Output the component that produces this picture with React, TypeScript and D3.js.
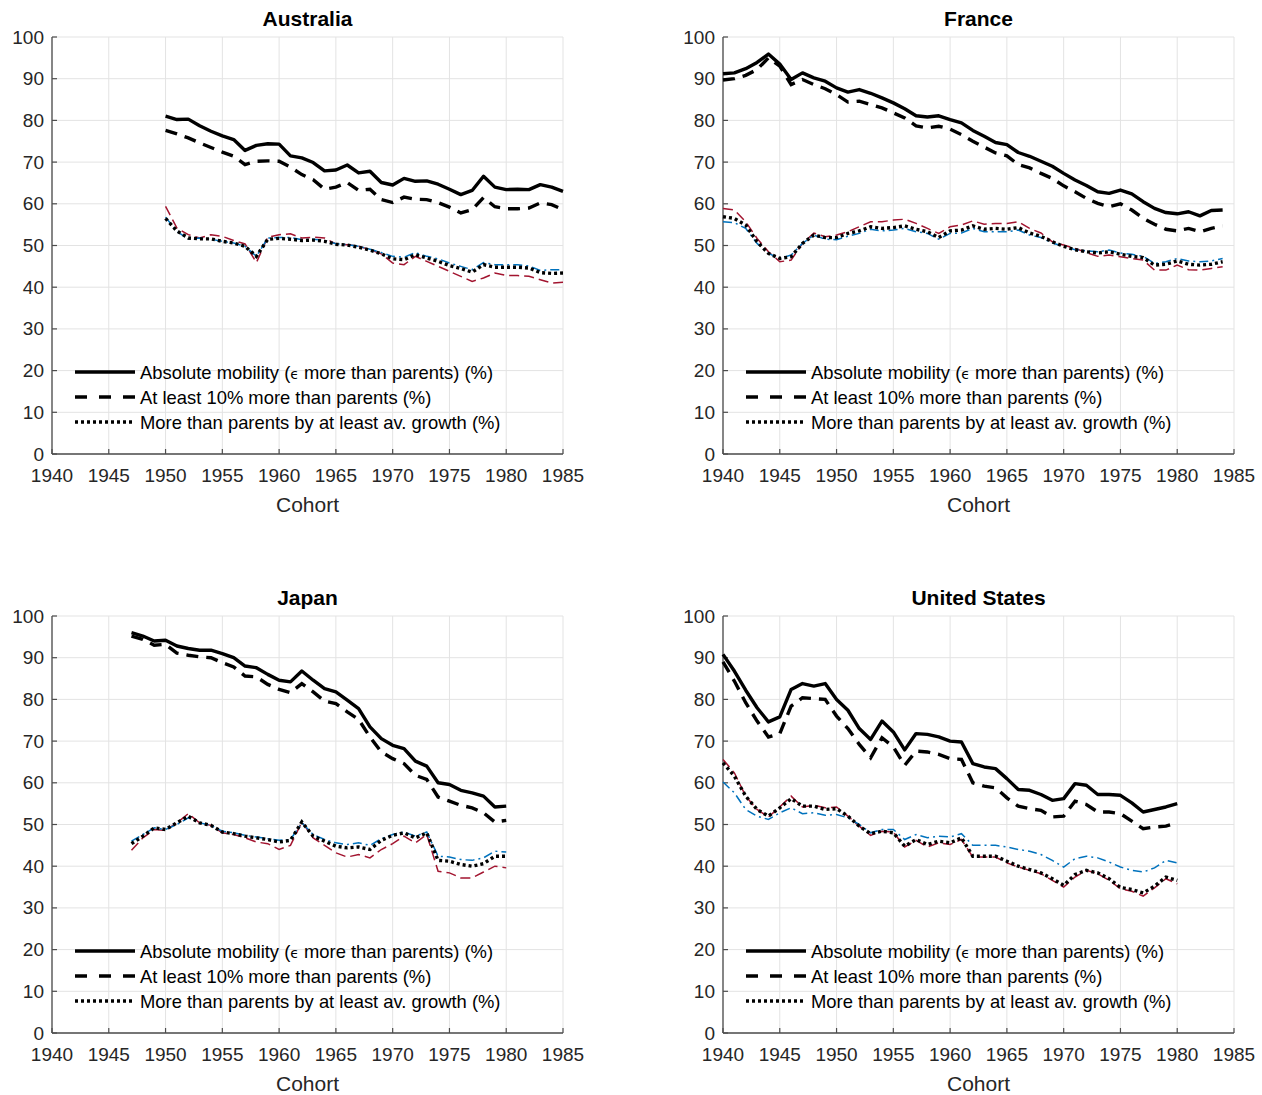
import React from "react";
import * as d3 from "d3";

// Cohort ranges per country
const australiaCohorts = d3.range(1950, 1986);
const franceCohorts = d3.range(1940, 1985);
const japanCohorts = d3.range(1947, 1981);
const usCohorts = d3.range(1940, 1981);

// Australia
const australiaAbsolute = [81, 80.2, 80.3, 78.7, 77.4, 76.3, 75.4, 72.8, 74, 74.4, 74.3, 71.5, 71, 69.9, 67.9, 68.1, 69.3, 67.4, 67.8, 65.1, 64.5, 66.1, 65.4, 65.5, 64.7, 63.5, 62.2, 63.2, 66.6, 64, 63.4, 63.5, 63.4, 64.6, 64, 63];
const australiaTenPct = [77.6, 76.8, 75.8, 74.6, 73.5, 72.4, 71.4, 69.4, 70.2, 70.3, 70.2, 68.8, 67, 65.8, 63.5, 64, 65.1, 63.2, 63.5, 61, 60.3, 61.6, 61.1, 61, 60.3, 59.2, 57.8, 58.6, 61.5, 59.3, 58.8, 58.8, 59, 60.2, 59.8, 58.6];
const australiaAvGrowth = [56.5, 53.5, 51.8, 51.6, 51.6, 51, 50.6, 49.8, 47.4, 51.5, 51.7, 51.5, 51.2, 51.3, 51, 50.3, 50.1, 49.6, 48.9, 48, 46.8, 46.6, 47.8, 47, 46.2, 45.2, 44.5, 43.6, 45.4, 44.8, 44.8, 44.8, 44.6, 43.5, 43.3, 43.4];
const australiaVariantRed = [59.4, 54.2, 52.6, 51.8, 52.6, 52.2, 51.2, 50.4, 45.9, 52, 52.6, 52.8, 51.8, 52, 51.8, 50.4, 50.2, 49.8, 49, 48, 45.8, 45.4, 47.4, 46.2, 45, 43.8, 42.6, 41.4, 42.2, 43.4, 42.8, 42.8, 42.6, 41.8, 41, 41.2];
const australiaVariantBlue = [56.8, 53.4, 51.5, 51.8, 51.5, 51, 50.6, 49.8, 47.4, 51.8, 51.9, 51.9, 51.4, 51.5, 51.2, 50.4, 50.2, 49.8, 49.1, 48.3, 47.4, 47.2, 48.3, 47.4, 46.8, 45.8, 45, 44.2, 45.9, 45.4, 45.4, 45.4, 45.1, 44, 44.2, 44.2];

// France
const franceAbsolute = [91.2, 91.4, 92.4, 93.9, 95.9, 93.5, 89.8, 91.4, 90.2, 89.4, 87.8, 86.8, 87.4, 86.5, 85.4, 84.2, 82.8, 81.1, 80.8, 81.1, 80.2, 79.4, 77.6, 76.2, 74.7, 74.2, 72.3, 71.4, 70.2, 69, 67.3, 65.7, 64.4, 62.9, 62.5, 63.3, 62.4, 60.5, 58.9, 57.9, 57.6, 58.1, 57.1, 58.4, 58.5];
const franceTenPct = [89.7, 90, 90.8, 92.2, 95, 93, 88.6, 89.8, 88.6, 87.6, 86.2, 84.4, 84.6, 83.8, 83, 81.8, 80.6, 78.7, 78.2, 78.6, 77.9, 76.6, 75, 73.6, 72.2, 71.5, 69.4, 68.6, 67.3, 66.1, 64.3, 62.9, 61.3, 60.1, 59.3, 60, 58.5, 56.5, 55.1, 53.9, 53.5, 54.1, 53.3, 54.1, 54.7];
const franceAvGrowth = [56.9, 56.5, 54.9, 50.9, 48.1, 46.9, 47.3, 50.5, 52.5, 51.9, 51.9, 52.9, 53.5, 54.5, 54.1, 54.3, 54.7, 53.9, 53.3, 51.9, 53.5, 53.7, 54.7, 53.9, 54.1, 53.9, 54.3, 53, 52.2, 50.9, 49.8, 49, 48.5, 48.2, 48.5, 47.9, 47.4, 47.1, 45.3, 45.5, 46.3, 45.5, 45.3, 45.5, 46.1];
const franceVariantRed = [58.9, 58.5, 55.7, 51.7, 48.5, 46.1, 46.5, 50.5, 53, 52.1, 52.5, 53.3, 54.5, 55.7, 55.7, 56.1, 56.3, 55.3, 54.1, 52.9, 54.5, 54.9, 55.9, 55.1, 55.3, 55.3, 55.7, 54.1, 53, 50.9, 50.1, 49.3, 48.3, 47.4, 47.7, 47.3, 46.9, 46.5, 44.1, 44.1, 45.3, 44.2, 44.1, 44.5, 44.9];
const franceVariantBlue = [55.7, 55.5, 54.1, 50.5, 48.1, 46.9, 47.7, 50.5, 52.5, 51.5, 51.4, 52.2, 52.9, 53.9, 53.5, 53.7, 54.1, 53.3, 52.9, 51.5, 52.9, 53, 54.1, 53.3, 53.3, 53.3, 53.7, 52.5, 51.9, 50.6, 49.8, 49, 48.7, 48.5, 48.9, 48.2, 47.9, 47.4, 45.7, 46.1, 46.9, 46.3, 46.1, 46.3, 46.9];

// Japan
const japanAbsolute = [96, 95.2, 94, 94.2, 92.8, 92.2, 91.8, 91.8, 91, 90, 88, 87.6, 86, 84.6, 84.2, 86.8, 84.6, 82.6, 81.8, 79.8, 77.8, 73.4, 70.6, 69, 68.2, 65.2, 64, 60, 59.6, 58.2, 57.6, 56.8, 54.2, 54.4];
const japanTenPct = [95.2, 94.4, 93, 93.2, 91.1, 90.6, 90.2, 90, 88.8, 87.8, 85.6, 85.4, 83.6, 82.4, 81.6, 83.8, 81.8, 79.6, 79, 77, 75.2, 71, 67.4, 65.8, 64.6, 61.8, 60.8, 56.6, 55.6, 54.6, 54, 52.8, 50.6, 51];
const japanAvGrowth = [45.4, 47.2, 49.2, 48.8, 50.4, 52, 50.4, 49.8, 48.2, 47.8, 47.2, 46.8, 46.4, 45.8, 46.2, 50.6, 47.2, 46, 44.8, 44.4, 44.6, 44, 46.2, 47.4, 48, 46.8, 48, 41.4, 41.2, 40.4, 40, 40.6, 42.4, 42.4];
const japanVariantRed = [43.8, 46.8, 48.8, 48.6, 50.4, 52.6, 50.4, 49.8, 48, 47.6, 46.8, 45.8, 45.4, 44, 45, 50.6, 46.8, 45, 43.2, 42.2, 42.8, 42, 44, 45.4, 47.2, 45.6, 47.6, 38.8, 38.4, 37.2, 37.2, 38.6, 40, 39.6];
const japanVariantBlue = [46, 47.6, 49.2, 48.8, 50, 51.6, 50.4, 49.8, 48.4, 48, 47.4, 47, 46.6, 46.2, 46.4, 50.4, 47.6, 46.4, 45.6, 45.2, 45.6, 45, 46.6, 47.6, 48.2, 47.2, 48.2, 42.4, 42.2, 41.6, 41.4, 42, 43.6, 43.4];

// United States
const usAbsolute = [90.8, 86.8, 82.2, 78, 74.6, 75.8, 82.4, 83.8, 83.2, 83.8, 80, 77.4, 73, 70.4, 74.8, 72.2, 67.9, 71.8, 71.6, 71, 70, 69.8, 64.6, 63.8, 63.4, 61, 58.4, 58.2, 57.2, 55.8, 56.2, 59.8, 59.4, 57.2, 57.2, 57, 55.2, 53, 53.6, 54.2, 55];
const usTenPct = [89, 84.4, 79.2, 74.8, 71, 71.8, 78.4, 80.4, 80.2, 80, 76, 73, 69.2, 66, 70.8, 68.6, 64.2, 67.6, 67.4, 66.8, 65.8, 65.6, 60, 59.2, 58.8, 56.4, 54.4, 53.8, 53.4, 51.8, 52, 55.6, 54.8, 53, 53, 52.6, 50.8, 49, 49.4, 49.6, 50.4];
const usAvGrowth = [64.8, 61.6, 56.8, 53.6, 52, 54, 56.2, 54.4, 54.4, 53.6, 53.8, 52, 49.6, 47.8, 48.4, 48, 44.8, 46.4, 45.2, 46, 45.6, 46.8, 42.4, 42.4, 42.4, 41.2, 40, 39.2, 38.4, 37, 35.4, 38, 39, 38.4, 37, 34.9, 34.4, 33.6, 35.2, 37.4, 36.6];
const usVariantRed = [65.6, 62.4, 56.8, 53.6, 51.8, 54.2, 56.8, 54.2, 54.6, 54, 54.2, 52, 49.6, 47.4, 48.4, 48.2, 44.6, 46.2, 44.6, 45.6, 45.2, 46.4, 42.2, 42.2, 42.2, 40.8, 39.8, 39, 38.2, 36.6, 35, 37.4, 39, 38.2, 36.6, 34.6, 34, 32.8, 34.8, 37, 35.8];
const usVariantBlue = [60.2, 57.6, 53.6, 52, 51.2, 52.8, 54, 52.6, 52.8, 52.2, 52.4, 51.6, 50, 48, 48.8, 48.8, 46.4, 47.6, 46.8, 47.2, 47, 47.8, 45, 45, 45, 44.6, 44, 43.6, 42.8, 41.4, 39.8, 41.8, 42.4, 42, 41, 39.8, 39, 38.6, 39.6, 41.4, 40.8];

// Axis ticks and legend labels
const xTicks = d3.range(1940, 1986, 5);
const yTicks = d3.range(0, 101, 10);
const legendLabels = [
  "Absolute mobility (",
  "At least 10% more than parents (%)",
  "More than parents by at least av. growth (%)",
];

const panels = [
  { title: "Australia", cohorts: australiaCohorts, abs: australiaAbsolute, ten: australiaTenPct, avg: australiaAvGrowth, red: australiaVariantRed, blue: australiaVariantBlue, col: 0, row: 0 },
  { title: "France", cohorts: franceCohorts, abs: franceAbsolute, ten: franceTenPct, avg: franceAvGrowth, red: franceVariantRed, blue: franceVariantBlue, col: 1, row: 0 },
  { title: "Japan", cohorts: japanCohorts, abs: japanAbsolute, ten: japanTenPct, avg: japanAvGrowth, red: japanVariantRed, blue: japanVariantBlue, col: 0, row: 1 },
  { title: "United States", cohorts: usCohorts, abs: usAbsolute, ten: usTenPct, avg: usAvGrowth, red: usVariantRed, blue: usVariantBlue, col: 1, row: 1 },
];

const FONT = "'Liberation Sans', Arial, Helvetica, sans-serif";
const TEXT = "#262626";
const COL_LEFT = [52, 723];
const ROW_TOP = [37, 616];
const PW = 511;
const PH = 417;

function Panel({ p }: { p: typeof panels[number] }) {
  const left = COL_LEFT[p.col];
  const top = ROW_TOP[p.row];
  const x = d3.scaleLinear().domain([1940, 1985]).range([left, left + PW]);
  const y = d3.scaleLinear().domain([0, 100]).range([top + PH, top]);
  const line = (vals: number[]) =>
    d3.line<number>().x((_, i) => x(p.cohorts[i])).y((v) => y(v))(vals) || "";

  const lg = (i: number) => top + 335 + i * 25;
  const lx0 = left + 23;
  const lx1 = left + 83;

  return (
    <g>
      {/* grid */}
      {xTicks.map((t) => (
        <line key={"gx" + t} x1={x(t)} x2={x(t)} y1={top} y2={top + PH} stroke="#e3e3e3" strokeWidth={1} />
      ))}
      {yTicks.map((t) => (
        <line key={"gy" + t} x1={left} x2={left + PW} y1={y(t)} y2={y(t)} stroke="#e3e3e3" strokeWidth={1} />
      ))}
      {/* axes */}
      <line x1={left} x2={left} y1={top} y2={top + PH} stroke="#4d4d4d" strokeWidth={1.3} />
      <line x1={left} x2={left + PW} y1={top + PH} y2={top + PH} stroke="#4d4d4d" strokeWidth={1.3} />
      {yTicks.map((t) => (
        <g key={"ty" + t}>
          <line x1={left} x2={left + 5} y1={y(t)} y2={y(t)} stroke="#4d4d4d" strokeWidth={1.2} />
          <text x={left - 8} y={y(t) + 6.5} textAnchor="end" fontSize={19} fill={TEXT} fontFamily={FONT}>{t}</text>
        </g>
      ))}
      {xTicks.map((t) => (
        <g key={"tx" + t}>
          <line x1={x(t)} x2={x(t)} y1={top + PH} y2={top + PH - 5} stroke="#4d4d4d" strokeWidth={1.2} />
          <text x={x(t)} y={top + PH + 28} textAnchor="middle" fontSize={19} fill={TEXT} fontFamily={FONT}>{t}</text>
        </g>
      ))}
      <text x={left + PW / 2} y={top + PH + 58} textAnchor="middle" fontSize={21} fill={TEXT} fontFamily={FONT}>Cohort</text>
      <text x={left + PW / 2} y={top - 11} textAnchor="middle" fontSize={21} fontWeight="bold" fill="#000" fontFamily={FONT}>{p.title}</text>

      {/* series */}
      <path d={line(p.abs)} fill="none" stroke="#000" strokeWidth={3.4} strokeLinejoin="round" />
      <path d={line(p.ten)} fill="none" stroke="#000" strokeWidth={3.4} strokeDasharray="12,8" />
      <path d={line(p.red)} fill="none" stroke="#A2142F" strokeWidth={1.5} strokeDasharray="10,5" />
      <path d={line(p.blue)} fill="none" stroke="#0072BD" strokeWidth={1.5} strokeDasharray="9,4,2,4" />
      <path d={line(p.avg)} fill="none" stroke="#000" strokeWidth={3.4} strokeDasharray="3,3" />

      {/* legend */}
      <line x1={lx0} x2={lx1} y1={lg(0)} y2={lg(0)} stroke="#000" strokeWidth={3.4} />
      <line x1={lx0} x2={lx1} y1={lg(1)} y2={lg(1)} stroke="#000" strokeWidth={3.4} strokeDasharray="12,12" />
      <line x1={lx0} x2={lx1} y1={lg(2)} y2={lg(2)} stroke="#000" strokeWidth={3.4} strokeDasharray="3,3" />
      <text x={lx1 + 5} y={lg(0) + 6.5} fontSize={18.4} fill="#000" fontFamily={FONT}>
        {legendLabels[0]}
        <tspan fontSize={14} fontFamily="'DejaVu Sans', sans-serif">ϵ</tspan>
        {" more than parents) (%)"}
      </text>
      <text x={lx1 + 5} y={lg(1) + 6.5} fontSize={18.4} fill="#000" fontFamily={FONT}>{legendLabels[1]}</text>
      <text x={lx1 + 5} y={lg(2) + 6.5} fontSize={18.4} fill="#000" fontFamily={FONT}>{legendLabels[2]}</text>
    </g>
  );
}

export default function App() {
  return (
    <svg
      width={1262}
      height={1095}
      style={{ position: "absolute", left: 0, top: 0, background: "#fff" }}
    >
      <rect width={1262} height={1095} fill="#fff" />
      {panels.map((p) => (
        <Panel key={p.title} p={p} />
      ))}
    </svg>
  );
}
